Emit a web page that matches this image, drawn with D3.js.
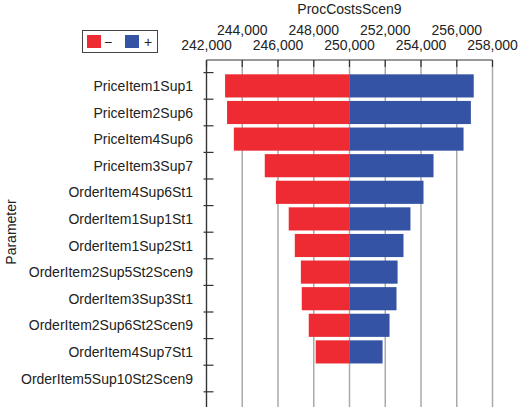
<!DOCTYPE html>
<html>
<head>
<meta charset="UTF-8">
<script src="https://d3js.org/d3.v7.min.js"></script>
<style>
  body { margin: 0; background: #fff; font-family: "Liberation Sans", Arial, sans-serif; }
</style>
</head>
<body>
<svg id="chart" width="520" height="407"></svg>
<script>
const params = ["PriceItem1Sup1", "PriceItem2Sup6", "PriceItem4Sup6", "PriceItem3Sup7",
  "OrderItem4Sup6St1", "OrderItem1Sup1St1", "OrderItem1Sup2St1", "OrderItem2Sup5St2Scen9",
  "OrderItem3Sup3St1", "OrderItem2Sup6St2Scen9", "OrderItem4Sup7St1", "OrderItem5Sup10St2Scen9"];
const lowValues = [243040, 243150, 243530, 245260, 245880, 246600, 246940, 247280, 247330, 247720, 248110, 250000];
const highValues = [256950, 256790, 256380, 254700, 254140, 253410, 253020, 252690, 252630, 252240, 251850, 250000];
const baseValue = 250000;
const tickValues = [242000, 244000, 246000, 248000, 250000, 252000, 254000, 256000, 258000];

const svg = d3.select("#chart");
const x = d3.scaleLinear().domain([242000, 258000]).range([206.5, 492.5]);
const y = d3.scaleBand().domain(params).range([72.6, 391.8]).paddingInner(0.13).paddingOuter(0.065);
const bottom = 410, axisY = 60;
const fmt = d3.format(",");

// grid lines
svg.selectAll("line.grid").data(tickValues).enter().append("line")
  .attr("x1", d => x(d)).attr("x2", d => x(d))
  .attr("y1", axisY).attr("y2", bottom)
  .attr("stroke", "#aaa").attr("stroke-width", 1.5);

// bars
const rows = params.map((p, i) => ({ p, lo: lowValues[i], hi: highValues[i] }));
svg.selectAll("rect.lo").data(rows).enter().append("rect")
  .attr("x", d => x(d.lo)).attr("width", d => x(baseValue) - x(d.lo))
  .attr("y", d => y(d.p)).attr("height", y.bandwidth())
  .attr("fill", "#ee2a33");
svg.selectAll("rect.hi").data(rows).enter().append("rect")
  .attr("x", x(baseValue)).attr("width", d => x(d.hi) - x(baseValue))
  .attr("y", d => y(d.p)).attr("height", y.bandwidth())
  .attr("fill", "#3553a4");

// top axis
svg.append("line").attr("x1", x(242000)).attr("x2", x(258000))
  .attr("y1", axisY).attr("y2", axisY).attr("stroke", "#333").attr("stroke-width", 1.2);
svg.selectAll("line.xt").data(tickValues).enter().append("line")
  .attr("x1", d => x(d)).attr("x2", d => x(d))
  .attr("y1", axisY).attr("y2", axisY + 7).attr("stroke", "#333").attr("stroke-width", 1.2);
svg.selectAll("text.xt").data(tickValues).enter().append("text")
  .attr("x", d => x(d)).attr("y", (d, i) => i % 2 ? 35 : 50)
  .attr("text-anchor", "middle").attr("font-size", 14).attr("fill", "#222")
  .text(d => fmt(d));
svg.append("text").attr("x", x(250000)).attr("y", 14).attr("text-anchor", "middle")
  .attr("font-size", 14).attr("fill", "#222").text("ProcCostsScen9");

// left axis
svg.append("line").attr("x1", x(242000)).attr("x2", x(242000))
  .attr("y1", axisY).attr("y2", bottom).attr("stroke", "#333").attr("stroke-width", 1.2);
const bounds = params.map(p => y(p) - y.step() * y.paddingInner() / 2).concat([y.range()[1]]);
svg.selectAll("line.yt").data(bounds).enter().append("line")
  .attr("x1", x(242000) - 3).attr("x2", x(242000) + 7)
  .attr("y1", d => d).attr("y2", d => d).attr("stroke", "#333").attr("stroke-width", 1.2);
svg.selectAll("text.yt").data(params).enter().append("text")
  .attr("x", 193).attr("y", d => y(d) + y.bandwidth() / 2 + 5)
  .attr("text-anchor", "end").attr("font-size", 14).attr("fill", "#222").text(d => d);
svg.append("text").attr("transform", "translate(16,232) rotate(-90)")
  .attr("text-anchor", "middle").attr("font-size", 14).attr("fill", "#222").text("Parameter");

// legend
svg.append("rect").attr("x", 82.5).attr("y", 30.5).attr("width", 75).attr("height", 22)
  .attr("fill", "#fff").attr("stroke", "#444");
svg.append("rect").attr("x", 87).attr("y", 35).attr("width", 14).attr("height", 13).attr("fill", "#ee2a33");
svg.append("text").attr("x", 104).attr("y", 47).attr("font-size", 14).attr("fill", "#222").text("−");
svg.append("rect").attr("x", 125).attr("y", 35).attr("width", 14).attr("height", 13).attr("fill", "#3553a4");
svg.append("text").attr("x", 144).attr("y", 47).attr("font-size", 14).attr("fill", "#222").text("+");
</script>
</body>
</html>
